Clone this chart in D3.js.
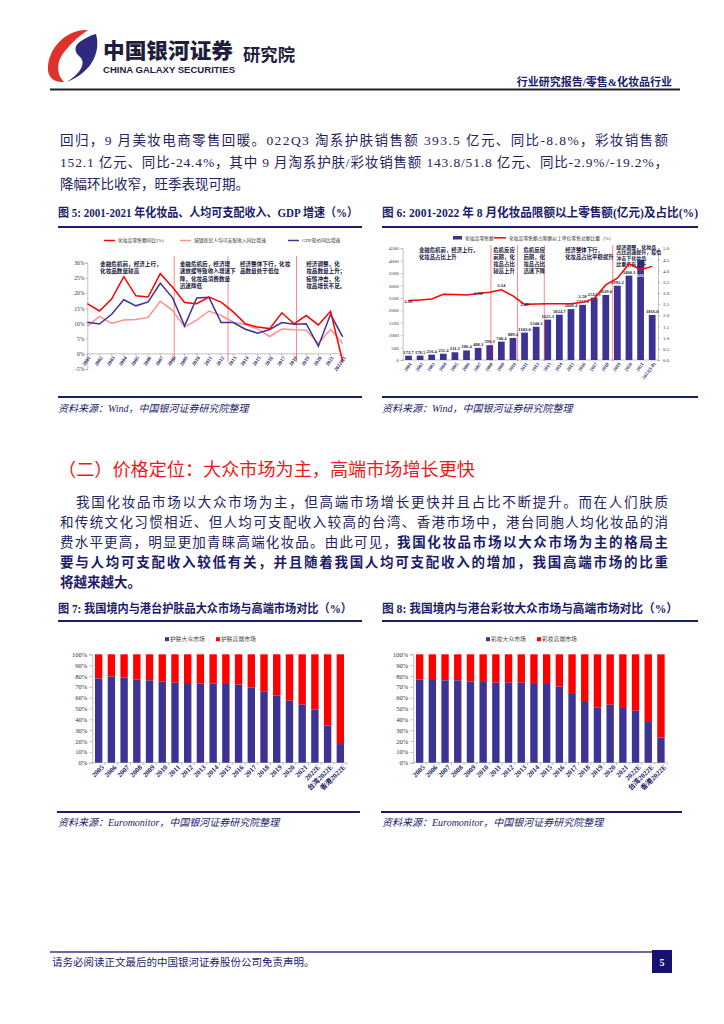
<!DOCTYPE html>
<html><head><meta charset="utf-8">
<script src="https://cdn.jsdelivr.net/npm/d3@7"></script>
<style>body{margin:0;background:#fff} svg{display:block}</style>
</head><body>
<svg id="page" width="724" height="1024"></svg>
<script>
// ---------- DATA ----------
const years5 = ["2001","2002","2003","2004","2005","2006","2007","2008","2009","2010","2011","2012","2013","2014","2015","2016","2017","2018","2019","2020","2021","2022H1"];
const cosmeticsGrowth = [16.5,14.1,18.0,25.4,19.1,18.7,26.4,22.0,16.9,16.5,18.7,17.0,13.8,9.9,8.8,8.3,13.5,9.9,12.6,9.5,14.0,-2.6];
const incomeGrowth = [9.1,12.3,10.0,11.1,11.3,12.0,17.3,14.3,8.8,11.1,14.1,12.6,10.4,9.6,8.2,5.7,8.2,7.9,7.8,3.4,8.0,3.4];
const gdpGrowth = [10.4,9.8,13.0,17.8,15.8,17.1,23.2,18.5,9.2,18.4,18.6,10.3,10.3,8.1,6.8,8.0,10.3,9.7,9.9,2.5,13.0,5.6];
const ticks5 = [-5,0,5,10,15,20,25,30];
const legend5 = ["化妆品零售额同比(%)","城镇居民人均可支配收入同比增速","GDP现价同比增速"];
const notes5 = [
  ["金融危机前，经济上行，","化妆品数量较高"],
  ["金融危机后，经济增","速放缓导致收入增速下","降，化妆品消费数量","迅速降低"],
  ["经济整体下行，化妆","品数量处于低位"],
  ["经济调整，化","妆品数量上升；","疫情冲击，化","妆品增长不足。"]
];

const years6 = ["2001","2002","2003","2004","2005","2006","2007","2008","2009","2010","2011","2012","2013","2014","2015","2016","2017","2018","2019","2020","2021","2022(1-8)"];
const retailSales = [173.7,178.5,216.4,251.4,311.1,386.4,488.3,596.3,740.4,889.4,1103.0,1340.1,1625.3,1824.7,2049.4,2222.8,2514.3,2619.0,2992.2,3400.3,4026.0,1816.0];
const retailShare = [2.66,2.69,2.73,2.94,2.93,2.91,2.98,3.03,3.14,2.87,2.49,2.51,2.52,2.52,2.52,2.58,2.75,3.36,3.66,4.30,4.04,4.19];
const shareLabelIdx = [0,6,8,10,15];
const ticks6L = [0,500,1000,1500,2000,2500,3000,3500,4000,4500];
const ticks6R = [0,0.5,1,1.5,2,2.5,3,3.5,4,4.5,5];
const legend6 = ["化妆品零售额","化妆品零售额占限额以上单位零售总额比重（%）"];
const notes6 = [
  ["金融危机前，经济上行，","化妆品占比上升"],
  ["危机反应","前期，化","妆品占比","较高上升"],
  ["危机反应","后期，化","妆品占比","迅速下降"],
  ["经济整体下行，","化妆品占比平稳提升"],
  ["经济调整，化妆品","占比迅速提升，疫情","冲击下化妆品","比重仍有上升"]
];

const cats78 = ["2005","2006","2007","2008","2009","2010","2011","2012","2013","2014","2015","2016","2017","2018","2019","2020","2021","2022E","台湾2022E","香港2022E"];
const skinMass = [77.8,79.4,78.5,76.9,76.0,74.8,73.8,73.5,72.9,72.9,72.6,72.0,69.2,65.5,61.8,57.2,53.5,49.2,34.2,17.2];
const makeupMass = [76.6,76.3,76.0,76.0,74.8,74.5,73.8,73.8,73.8,72.6,72.6,70.2,63.4,56.0,50.8,53.5,50.5,48.0,37.5,23.1];
const ticks78 = [0,10,20,30,40,50,60,70,80,90,100];
const legend7 = ["护肤大众市场","护肤高端市场"];
const legend8 = ["彩妆大众市场","彩妆高端市场"];

// ---------- STYLE ----------
const SERIF = "'Liberation Serif','Noto Sans CJK SC',serif";
const SANS = "'Liberation Sans','Noto Sans CJK SC',sans-serif";
const CJK = "'Noto Sans CJK SC',sans-serif";
const NAVY = "#1c1c6b", TEXT = "#23235e", BAR = "#3d3393", RED = "#ff0000", PINK = "#ff8f8f";

const svg = d3.select("#page");
svg.append("rect").attr("width",724).attr("height",1024).attr("fill","#fff");

function T(g, x, y, s, o={}) {
  const t = g.append("text").attr("x",x).attr("y",y).text(s)
    .attr("font-family", o.ff || SERIF).attr("font-size", o.fs || 13)
    .attr("fill", o.fill || TEXT);
  if (o.fw) t.attr("font-weight", o.fw);
  if (o.anchor) t.attr("text-anchor", o.anchor);
  if (o.italic) t.attr("font-style","italic");
  if (o.len) t.attr("textLength", o.len).attr("lengthAdjust","spacingAndGlyphs");
  if (o.lenS) t.attr("textLength", o.lenS).attr("lengthAdjust","spacing");
  return t;
}
function hline(x1,x2,y,c,w){ svg.append("line").attr("x1",x1).attr("x2",x2).attr("y1",y).attr("y2",y).attr("stroke",c).attr("stroke-width",w); }

// ---------- HEADER ----------
const logo = svg.append("g");
logo.append("path").attr("fill","#e0322b")
  .attr("d","M88,30 C67,29 49,47 48,67 C47,77 54,83 64,82 C56,74 56,61 65,51 C71,43 79,36 88,30 Z");
logo.append("path").attr("fill","#2e2a7e")
  .attr("d","M96,34 C101,52 92,72 67,82 C81,73 87,62 79,56 C74,52 74,45 81,41 C86,38 91,35 96,34 Z");
T(svg,103,57.5,"中国银河证券",{ff:CJK,fs:21,fw:900,fill:"#1e1e3c",len:130});
T(svg,103,73,"CHINA GALAXY SECURITIES",{ff:SANS,fs:9.5,fw:"bold",fill:"#1e1e3c",len:132});
T(svg,243,61,"研究院",{ff:CJK,fs:17,fw:"bold",fill:"#1e1e3c",len:52});
T(svg,672,86,"行业研究报告/零售&化妆品行业",{fs:11,fw:"bold",fill:NAVY,anchor:"end"});
hline(50,680,89.5,"#222",2);

// ---------- PARAGRAPH 1 ----------
T(svg,60,145,"回归，9 月美妆电商零售回暖。022Q3 淘系护肤销售额 393.5 亿元、同比-8.8%，彩妆销售额",{fs:13.5,lenS:608});
T(svg,60,167,"152.1 亿元、同比-24.4%，其中 9 月淘系护肤/彩妆销售额 143.8/51.8 亿元、同比-2.9%/-19.2%，",{fs:13.5,lenS:608});
T(svg,60,189,"降幅环比收窄，旺季表现可期。",{fs:13.5});

// ---------- FIGURE FRAMES ----------
T(svg,58,217,"图 5: 2001-2021 年化妆品、人均可支配收入、GDP 增速（%）",{fs:12,fw:"bold",fill:NAVY,len:300});
T(svg,382,217,"图 6: 2001-2022 年 8 月化妆品限额以上零售额(亿元)及占比(%)",{fs:12,fw:"bold",fill:NAVY,len:316});
hline(58,362,227,NAVY,2); hline(382,698,227,NAVY,2);
hline(58,362,397,NAVY,2); hline(382,698,397,NAVY,2);
T(svg,58,412,"资料来源：Wind，中国银河证券研究院整理",{fs:10,italic:true,fill:NAVY});
T(svg,382,412,"资料来源：Wind，中国银河证券研究院整理",{fs:10,italic:true,fill:NAVY});

// ---------- FIGURE 5 ----------
(function(){
  const g = svg.append("g");
  const x = d3.scalePoint().domain(years5).range([87.3,342.7]);
  const y = d3.scaleLinear().domain([-5,30]).range([369,262.7]);
  const step = x.step();
  const lc = [RED,PINK,BAR], lx = [104,180,288];
  legend5.forEach((s,i)=>{
    g.append("line").attr("x1",lx[i]).attr("x2",lx[i]+11).attr("y1",240.5).attr("y2",240.5).attr("stroke",lc[i]).attr("stroke-width",1.5);
    T(g,lx[i]+14,242.3,s,{fs:4.8,fill:"#333"});
  });
  const ya = g.append("g").attr("transform","translate(87.3,0)")
    .call(d3.axisLeft(y).tickValues(ticks5).tickSize(2).tickPadding(1).tickFormat(d=>d+"%"));
  ya.selectAll("text").attr("font-family",SERIF).attr("font-size",5.5).attr("fill","#333");
  ya.selectAll("line,path").attr("stroke","#999").attr("stroke-width",0.6);
  const y0 = y(0);
  g.append("line").attr("x1",87.3).attr("x2",342.7).attr("y1",y0).attr("y2",y0).attr("stroke","#999").attr("stroke-width",0.6);
  years5.forEach(c=>{
    g.append("line").attr("x1",x(c)).attr("x2",x(c)).attr("y1",y0).attr("y2",y0+2).attr("stroke","#999").attr("stroke-width",0.6);
    T(g,0,0,c,{fs:5.2,fw:"bold",fill:NAVY,anchor:"end"}).attr("transform",`translate(${x(c)+2},${y0+3}) rotate(-55)`).attr("dy","0.35em");
  });
  [["2008",0.15],["2012",0.57],["2018",0.2]].forEach(([c,f])=>{
    const xx = x(c)+f*step;
    g.append("line").attr("x1",xx).attr("x2",xx).attr("y1",256.5).attr("y2",362).attr("stroke",RED).attr("stroke-width",0.8).attr("stroke-dasharray","1.2,0.8");
  });
  const nx = ["2002","2009","2014","2019"], noff=[0.05,-0.4,-0.45,0.0];
  notes5.forEach((lines,i)=>{
    lines.forEach((s,j)=>T(g,x(nx[i])+noff[i]*step,266+j*7.4,s,{ff:CJK,fs:5.6,fw:"bold",fill:"#15153a"}));
  });
  const series = [[incomeGrowth,PINK],[gdpGrowth,BAR],[cosmeticsGrowth,RED]];
  series.forEach(([d,c])=>{
    g.append("path").datum(d).attr("fill","none").attr("stroke",c).attr("stroke-width",1.5)
      .attr("d",d3.line().x((v,i)=>x(years5[i])).y(v=>y(v)));
  });
})();

// ---------- FIGURE 6 ----------
(function(){
  const g = svg.append("g");
  const x = d3.scaleBand().domain(years6).range([402.7,658]).paddingInner(0.42).paddingOuter(0.21);
  const yL = d3.scaleLinear().domain([0,4500]).range([360,248.3]);
  const yR = d3.scaleLinear().domain([0,5]).range([360,248.3]);
  const bw = x.bandwidth(), step = x.step();
  const cx = c => x(c)+bw/2;
  g.append("rect").attr("x",453).attr("y",236).attr("width",9).attr("height",3.5).attr("fill",BAR);
  T(g,465,239.6,legend6[0],{fs:4.8,fill:"#333"});
  g.append("line").attr("x1",494).attr("x2",506).attr("y1",237.8).attr("y2",237.8).attr("stroke",RED).attr("stroke-width",1.5);
  T(g,509,239.6,legend6[1],{fs:4.8,fill:"#333"});
  const la = g.append("g").attr("transform","translate(402.7,0)")
    .call(d3.axisLeft(yL).tickValues(ticks6L).tickSize(2).tickPadding(2).tickFormat(d3.format("d")));
  const ra = g.append("g").attr("transform","translate(658,0)")
    .call(d3.axisRight(yR).tickValues(ticks6R).tickSize(2).tickPadding(3).tickFormat(d3.format(".1f")));
  [la,ra].forEach(a=>{
    a.selectAll("text").attr("font-family",SERIF).attr("font-size",5).attr("fill","#333");
    a.selectAll("line,path").attr("stroke","#999").attr("stroke-width",0.6);
  });
  g.append("line").attr("x1",402.7).attr("x2",658).attr("y1",360).attr("y2",360).attr("stroke","#999").attr("stroke-width",0.6);
  years6.forEach(c=>{
    T(g,0,0,c,{fs:4.8,fw:"bold",fill:NAVY,anchor:"end"}).attr("transform",`translate(${cx(c)+2},${363}) rotate(-55)`).attr("dy","0.35em");
  });
  g.selectAll("rect.bar").data(retailSales).join("rect").attr("class","bar")
    .attr("x",(d,i)=>x(years6[i])).attr("width",bw)
    .attr("y",d=>yL(d)).attr("height",d=>360-yL(d)).attr("fill",BAR);
  retailSales.forEach((d,i)=>{
    const inside = i===20;
    T(g,cx(years6[i]),inside?yL(d)+17:yL(d)-2,d.toFixed(1),{fs:4.6,fw:"bold",fill:inside?"#fff":"#1a1a3a",anchor:"middle"});
  });
  [["2008",0.1],["2010",0.4],["2012",0.7],["2018",0.6]].forEach(([c,f])=>{
    const xx = cx(c)+f*step;
    g.append("line").attr("x1",xx).attr("x2",xx).attr("y1",245.5).attr("y2",361).attr("stroke",RED).attr("stroke-width",0.8).attr("stroke-dasharray","1.2,0.8");
  });
  const nx = [["2002",-0.1],["2008",0.3],["2010",0.9],["2014",0.5],["2018",0.9]];
  notes6.forEach((lines,i)=>{
    const [c,f] = nx[i];
    const last = i===4;
    lines.forEach((s,j)=>T(g,cx(c)+f*step,(last?248.5:252)+j*(last?5.9:7),s,{ff:CJK,fs:last?5:5.4,fw:"bold",fill:"#15153a"}));
  });
  g.append("path").datum(retailShare).attr("fill","none").attr("stroke",RED).attr("stroke-width",1.5)
    .attr("d",d3.line().x((v,i)=>cx(years6[i])).y(v=>yR(v)));
  shareLabelIdx.forEach(i=>{
    const off = i===8 ? -2.5 : (i===15 ? -4.5 : 2);
    T(g,cx(years6[i]),yR(retailShare[i])+off,retailShare[i].toFixed(2),{fs:4.8,fw:"bold",fill:"#1a1a3a",anchor:"middle"});
  });
})();

// ---------- HEADING & PARAGRAPH 2 ----------
T(svg,58,476,"（二）价格定位：大众市场为主，高端市场增长更快",{ff:CJK,fs:18,fill:"#f01818",len:417});
T(svg,76,507,"我国化妆品市场以大众市场为主，但高端市场增长更快并且占比不断提升。而在人们肤质",{fs:13.5,lenS:592});
T(svg,60,527,"和传统文化习惯相近、但人均可支配收入较高的台湾、香港市场中，港台同胞人均化妆品的消",{fs:13.5,lenS:608});
T(svg,60,547,"费水平更高，明显更加青睐高端化妆品。由此可见，",{fs:13.5,lenS:337});
T(svg,397,547,"我国化妆品市场以大众市场为主的格局主",{fs:13.5,fw:"bold",fill:NAVY,lenS:271});
T(svg,60,567,"要与人均可支配收入较低有关，并且随着我国人均可支配收入的增加，我国高端市场的比重",{fs:13.5,fw:"bold",fill:NAVY,lenS:608});
T(svg,60,587,"将越来越大。",{fs:13.5,fw:"bold",fill:NAVY});

// ---------- FIGURES 7 & 8 ----------
T(svg,58,613,"图 7: 我国境内与港台护肤品大众市场与高端市场对比（%）",{fs:12,fw:"bold",fill:NAVY,len:294});
T(svg,382,613,"图 8: 我国境内与港台彩妆大众市场与高端市场对比（%）",{fs:12,fw:"bold",fill:NAVY,len:296});
hline(58,362,621,NAVY,2); hline(382,698,621,NAVY,2);
hline(57,360,812,NAVY,2.2); hline(381,682,812,NAVY,2.2);
T(svg,58,826,"资料来源：Euromonitor，中国银河证券研究院整理",{fs:10,italic:true,fill:NAVY});
T(svg,382,826,"资料来源：Euromonitor，中国银河证券研究院整理",{fs:10,italic:true,fill:NAVY});

function stacked(x0,x1,mass,legend,legX){
  const g = svg.append("g");
  const x = d3.scaleBand().domain(cats78).range([x0,x1]).paddingInner(0.42).paddingOuter(0.21);
  const y = d3.scaleLinear().domain([0,100]).range([762.7,654.3]);
  const bw = x.bandwidth();
  [[BAR,legend[0]],[RED,legend[1]]].forEach(([c,s],i)=>{
    const lx = legX[i];
    g.append("rect").attr("x",lx).attr("y",637.2).attr("width",4).attr("height",4).attr("fill",c);
    T(g,lx+5,641.3,s,{fs:5.8,fill:"#444"});
  });
  const ya = g.append("g").attr("transform",`translate(${x0},0)`)
    .call(d3.axisLeft(y).tickValues(ticks78).tickSize(3).tickPadding(2).tickFormat(d=>d+"%"));
  ya.selectAll("text").attr("font-family",SERIF).attr("font-size",6.6).attr("fill","#333");
  ya.selectAll("line,path").attr("stroke","#999").attr("stroke-width",0.6);
  g.append("line").attr("x1",x0).attr("x2",x1).attr("y1",762.7).attr("y2",762.7).attr("stroke","#999").attr("stroke-width",0.6);
  cats78.forEach((c,i)=>{
    const bx = x(c)-x.step()*0.21;
    g.append("line").attr("x1",bx+x.step()).attr("x2",bx+x.step()).attr("y1",762.7).attr("y2",765).attr("stroke","#999").attr("stroke-width",0.6);
    g.append("rect").attr("x",x(c)).attr("width",bw).attr("y",y(100)).attr("height",y(mass[i])-y(100)).attr("fill",RED);
    g.append("rect").attr("x",x(c)).attr("width",bw).attr("y",y(mass[i])).attr("height",762.7-y(mass[i])).attr("fill",BAR);
    T(g,0,0,c,{fs:7,fw:"bold",fill:NAVY,anchor:"end"}).attr("transform",`translate(${x(c)+bw/2+4},${766}) rotate(-45)`).attr("dy","0.35em");
  });
}
stacked(92.3,346.7,skinMass,legend7,[165,216]);
stacked(413.3,667.3,makeupMass,legend8,[486,537]);

// ---------- FOOTER ----------
hline(50,652,952,"#3a3a8a",1.5);
T(svg,52,966,"请务必阅读正文最后的中国银河证券股份公司免责声明。",{fs:10.5,fill:NAVY});
svg.append("rect").attr("x",652).attr("y",950).attr("width",20).attr("height",23).attr("fill","#17126e");
T(svg,662,966,"5",{fs:10,fw:"bold",fill:"#fff",anchor:"middle"});
</script>
</body></html>
